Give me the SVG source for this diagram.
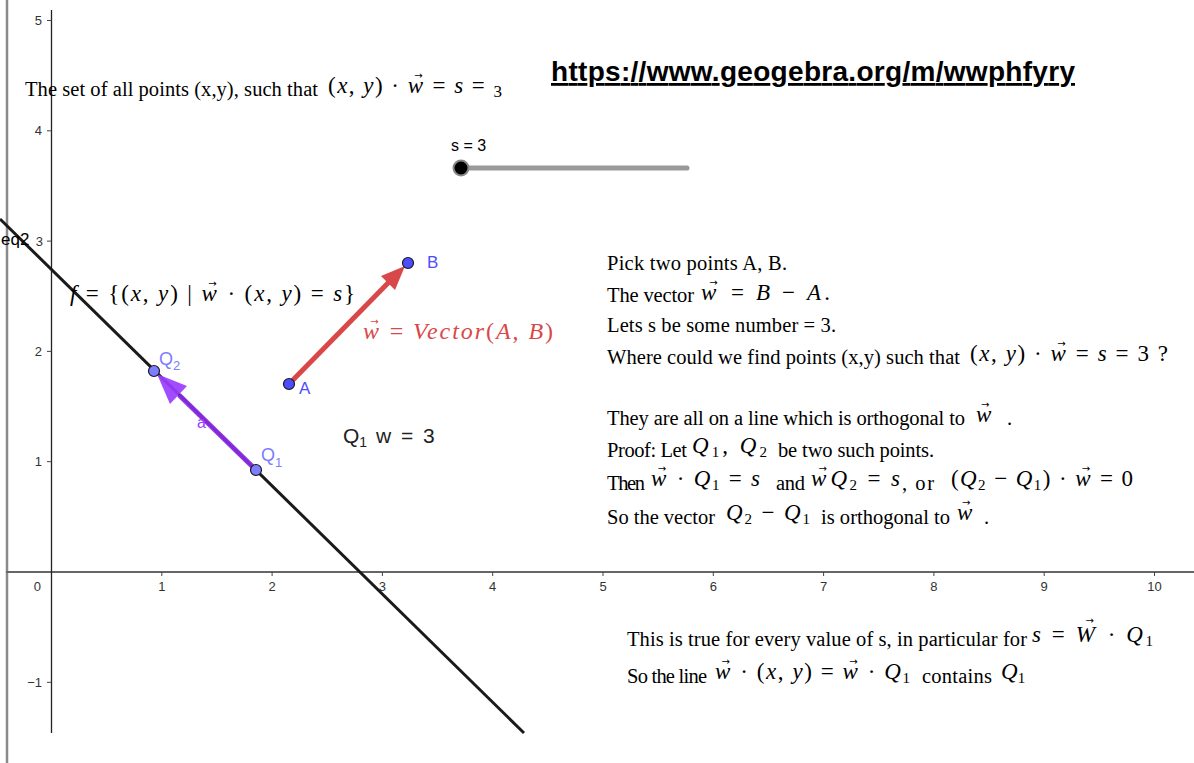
<svg xmlns="http://www.w3.org/2000/svg" width="1194" height="763" viewBox="0 0 1194 763">
<defs>
<style>
.t{font-family:"Liberation Serif","Times New Roman",serif;font-size:20.5px;fill:#000}
.m{font-family:"Liberation Serif","DejaVu Serif",serif;font-size:23px;fill:#000}
.i{font-style:italic}
.s{font-size:15px;font-style:normal}
.va{font-family:"DejaVu Sans",sans-serif;font-size:10px;font-style:normal}
.ax{font-family:"Liberation Sans",Arial,sans-serif;font-size:13px;fill:#333}
.lb{font-family:"Liberation Sans",Arial,sans-serif;font-size:17px}
.pt{stroke:#1a1a1a;stroke-width:1.2}
</style>
</defs>
<rect width="1194" height="763" fill="#fff"/>
<g id="axes">
<line x1="7" y1="0" x2="7" y2="763" stroke="#8a8a8a" stroke-width="2.5"/>
<line x1="6" y1="572" x2="1194" y2="572" stroke="#666" stroke-width="1.8"/>
<line x1="51.5" y1="10" x2="51.5" y2="733" stroke="#222" stroke-width="1.3"/>
<path d="M161.8 572v4M272.1 572v4M382.4 572v4M492.7 572v4M603 572v4M713.3 572v4M823.6 572v4M933.9 572v4M1044.2 572v4M1154.5 572v4M47 20.5h4.5M47 130.8h4.5M47 241.1h4.5M47 351.4h4.5M47 461.7h4.5M47 682.3h4.5" stroke="#444" stroke-width="1"/>
<g class="ax" text-anchor="middle">
<text x="161.8" y="591">1</text><text x="272.1" y="591">2</text><text x="382.4" y="591">3</text><text x="492.7" y="591">4</text><text x="603" y="591">5</text><text x="713.3" y="591">6</text><text x="823.6" y="591">7</text><text x="933.9" y="591">8</text><text x="1044.2" y="591">9</text><text x="1154.5" y="591">10</text>
</g>
<g class="ax" text-anchor="end">
<text x="42" y="25">5</text><text x="42" y="135">4</text><text x="43" y="246">3</text><text x="42" y="356">2</text><text x="42" y="466">1</text><text x="41" y="591">0</text><text x="42" y="687">−1</text>
</g>
</g>
<g id="connectors">
<line id="f" x1="0" y1="219" x2="524" y2="733" stroke="#1a1a1a" stroke-width="3"/>
<g id="vec-w">
<line x1="289" y1="384" x2="390" y2="281" stroke="#d94848" stroke-width="5"/>
<polygon points="405,266 395,290 381,276" fill="#d94848"/>
</g>
<g id="vec-a" opacity="0.92">
<line x1="256" y1="470" x2="179" y2="395" stroke="#8a2be8" stroke-width="5"/>
<polygon points="157,374 187,386 170,404" fill="#9b3dff"/>
</g>
</g>
<g id="eq2"><text class="lb" x="1" y="245" fill="#000">eq2</text></g>
<g id="label-a"><text class="lb" x="197" y="428" style="font-size:16px" fill="#9b3dff">a</text></g>
<g id="point-A">
<circle class="pt" cx="289" cy="384" r="5.5" fill="#4d4dff"/>
<text class="lb" x="299" y="394" fill="#4d4dff">A</text>
</g>
<g id="point-B">
<circle class="pt" cx="408" cy="263" r="5.5" fill="#4d4dff"/>
<text class="lb" x="427" y="268" fill="#4d4dff">B</text>
</g>
<g id="point-Q2">
<circle class="pt" cx="154" cy="371" r="5.5" fill="#7d7dff"/>
<text class="lb" x="159" y="365" style="font-size:18px" fill="#7d7dff">Q<tspan font-size="13" dy="5">2</tspan></text>
</g>
<g id="point-Q1">
<circle class="pt" cx="256" cy="470" r="5.5" fill="#7d7dff"/>
<text class="lb" x="261" y="461" style="font-size:18px" fill="#7d7dff">Q<tspan font-size="13" dy="6">1</tspan></text>
</g>
<g id="slider">
<text class="lb" x="451" y="151" style="font-size:16px" fill="#000">s = 3</text>
<line x1="461" y1="168" x2="687" y2="168" stroke="#999" stroke-width="5" stroke-linecap="round"/>
<circle cx="461" cy="168" r="7.5" fill="#000" stroke="#888" stroke-width="2"/>
</g>
<g id="url">
<text x="551" y="81" font-family="Liberation Sans,Arial,sans-serif" font-weight="bold" font-size="28" text-decoration="underline" textLength="524" fill="#000">https://www.geogebra.org/m/wwphfyry</text>
</g>
<g id="title">
<text class="t" x="25" y="96" textLength="293">The set of all points (x,y), such that</text>
<text class="m" x="328" y="93" textLength="174">(<tspan class="i">x</tspan>, <tspan class="i">y</tspan>) · <tspan class="i">w</tspan><tspan class="va" dx="-10.3" dy="-14">→</tspan><tspan dx="1.3" dy="14"> = </tspan><tspan class="i">s</tspan> = <tspan font-size="17" dy="4">3</tspan></text>
</g>
<g id="f-label">
<text class="m" x="70" y="301" textLength="285"><tspan class="i">f</tspan> = {(<tspan class="i">x</tspan>, <tspan class="i">y</tspan>) | <tspan class="i">w</tspan><tspan class="va" dx="-10.3" dy="-14">→</tspan><tspan dx="1.3" dy="14"> · (</tspan><tspan class="i">x</tspan>, <tspan class="i">y</tspan>) = <tspan class="i">s</tspan>}</text>
</g>
<g id="w-label">
<text class="m i" x="363" y="339" style="font-size:24px;fill:#d94848" textLength="190">w<tspan class="va" dx="-10.8" dy="-14">→</tspan><tspan dx="1.3" dy="14" font-style="normal"> = </tspan>Vector<tspan font-style="normal">(</tspan>A<tspan font-style="normal">, </tspan>B<tspan font-style="normal">)</tspan></text>
</g>
<g id="q1w">
<text class="lb" x="343" y="443" style="font-size:21px;fill:#222">Q<tspan font-size="14" dy="4">1</tspan><tspan dy="-4" dx="3"> w</tspan><tspan dx="4"> =</tspan><tspan dx="4"> 3</tspan></text>
</g>
<g id="explanation">
<text class="t" x="607" y="270" textLength="180">Pick two points A, B.</text>
<text class="t" x="607" y="302" textLength="87">The vector</text>
<text class="m" x="701" y="300" textLength="129"><tspan class="i">w</tspan><tspan class="va" dx="-10.3" dy="-14">→</tspan><tspan dx="1.3" dy="14"> = </tspan><tspan class="i">B</tspan> − <tspan class="i">A</tspan>.</text>
<text class="t" x="607" y="332" textLength="229">Lets s be some number = 3.</text>
<text class="t" x="607" y="364" textLength="353">Where could we find points (x,y) such that</text>
<text class="m" x="970" y="361" textLength="198">(<tspan class="i">x</tspan>, <tspan class="i">y</tspan>) · <tspan class="i">w</tspan><tspan class="va" dx="-10.3" dy="-14">→</tspan><tspan dx="1.3" dy="14"> = </tspan><tspan class="i">s</tspan> = 3 ?</text>
<text class="t" x="607" y="425" textLength="358">They are all on a line which is orthogonal to</text>
<text class="m" x="976" y="422"><tspan class="i">w</tspan><tspan class="va" dx="-10.3" dy="-14">→</tspan></text>
<text class="t" x="1007" y="425">.</text>
<text class="t" x="607" y="457" textLength="80">Proof: Let</text>
<text class="m" x="692" y="453" textLength="75"><tspan class="i">Q</tspan><tspan class="s" dy="4">1</tspan><tspan dy="-4">, </tspan><tspan class="i">Q</tspan><tspan class="s" dy="4">2</tspan></text>
<text class="t" x="778" y="457" textLength="156">be two such points.</text>
<text class="t" x="607" y="490" textLength="38">Then</text>
<text class="m" x="651" y="486" textLength="109"><tspan class="i">w</tspan><tspan class="va" dx="-10.3" dy="-14">→</tspan><tspan dx="1.3" dy="14"> · </tspan><tspan class="i">Q</tspan><tspan class="s" dy="4">1</tspan><tspan dy="-4"> = </tspan><tspan class="i">s</tspan></text>
<text class="t" x="776" y="490" textLength="29">and</text>
<text class="m" x="811" y="486" textLength="89"><tspan class="i">w</tspan><tspan class="va" dx="-10.3" dy="-14">→</tspan><tspan class="i" dx="1.3" dy="14">Q</tspan><tspan class="s" dy="4">2</tspan><tspan dy="-4"> = </tspan><tspan class="i">s</tspan></text>
<text class="t" x="902" y="490" textLength="32">, or</text>
<text class="m" x="951" y="486" textLength="182">(<tspan class="i">Q</tspan><tspan class="s" dy="4">2</tspan><tspan dy="-4"> − </tspan><tspan class="i">Q</tspan><tspan class="s" dy="4">1</tspan><tspan dy="-4">) · </tspan><tspan class="i">w</tspan><tspan class="va" dx="-10.3" dy="-14">→</tspan><tspan dx="1.3" dy="14"> = 0</tspan></text>
<text class="t" x="607" y="524" textLength="108">So the vector</text>
<text class="m" x="726" y="520" textLength="84"><tspan class="i">Q</tspan><tspan class="s" dy="4">2</tspan><tspan dy="-4"> − </tspan><tspan class="i">Q</tspan><tspan class="s" dy="4">1</tspan></text>
<text class="t" x="821" y="524" textLength="129">is orthogonal to</text>
<text class="m" x="957" y="520"><tspan class="i">w</tspan><tspan class="va" dx="-10.3" dy="-14">→</tspan></text>
<text class="t" x="984" y="524">.</text>
</g>
<g id="conclusion">
<text class="t" x="627" y="646" textLength="400">This is true for every value of s, in particular for</text>
<text class="m" x="1032" y="642" textLength="121"><tspan class="i">s</tspan> = <tspan class="i">W</tspan><tspan class="va" dx="-11.8" dy="-18">→</tspan><tspan dx="2.9" dy="18"> · </tspan><tspan class="i">Q</tspan><tspan class="s" dy="4">1</tspan></text>
<text class="t" x="627" y="683" textLength="80">So the line</text>
<text class="m" x="715" y="679" textLength="195"><tspan class="i">w</tspan><tspan class="va" dx="-10.3" dy="-14">→</tspan><tspan dx="1.3" dy="14"> · (</tspan><tspan class="i">x</tspan>, <tspan class="i">y</tspan>) = <tspan class="i">w</tspan><tspan class="va" dx="-10.3" dy="-14">→</tspan><tspan dx="1.3" dy="14"> · </tspan><tspan class="i">Q</tspan><tspan class="s" dy="4">1</tspan></text>
<text class="t" x="922" y="683" textLength="70">contains</text>
<text class="m" x="1001" y="679"><tspan class="i">Q</tspan><tspan class="s" dy="4">1</tspan></text>
</g>
</svg>
